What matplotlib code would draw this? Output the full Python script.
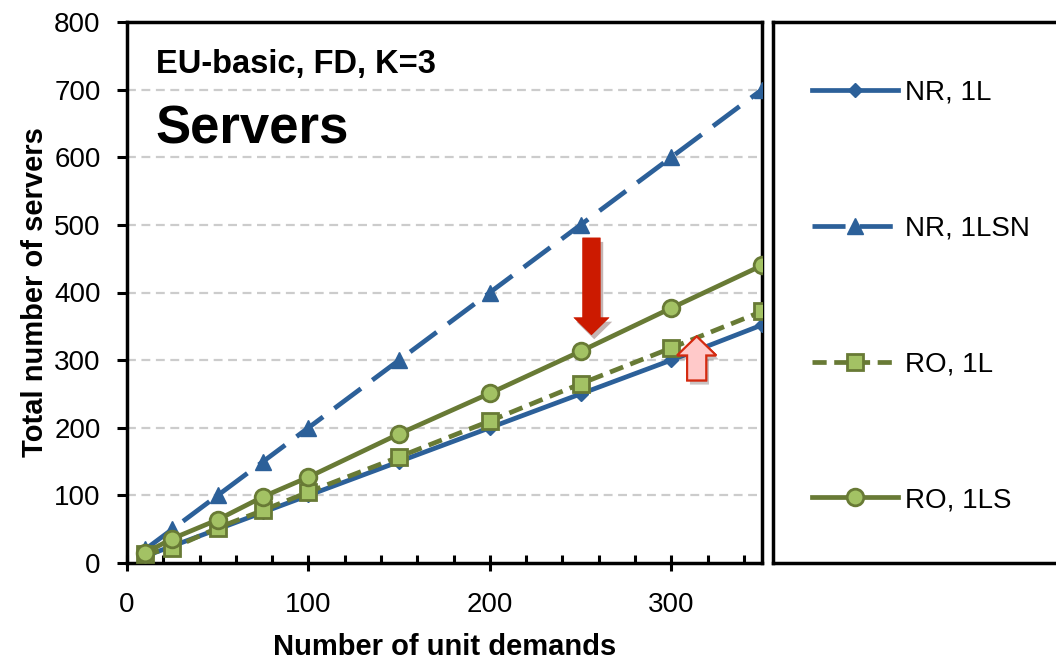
import numpy as np
import matplotlib
matplotlib.use('Agg')
import matplotlib.pyplot as plt
from matplotlib.patches import FancyArrow
import matplotlib.patheffects as pe

plt.rcParams['font.family'] = ['Liberation Sans', 'DejaVu Sans']

# data
demands = [10, 25, 50, 75, 100, 150, 200, 250, 300, 350]
nr_1l = [10, 25, 50, 75, 100, 150, 200, 250, 300, 352]
nr_1lsn = [20, 50, 100, 150, 200, 300, 400, 500, 600, 700]
ro_1l = [13, 22, 52, 78, 105, 157, 210, 265, 318, 372]
ro_1ls = [15, 36, 64, 98, 127, 191, 251, 313, 377, 440]
labels = ['NR, 1L', 'NR, 1LSN', 'RO, 1L', 'RO, 1LS']
yticks = [0, 100, 200, 300, 400, 500, 600, 700, 800]
xticks = [0, 100, 200, 300]

blue = '#2C6099'
green = '#687A35'
lightgreen = '#A3C264'

W, H = 1056, 662
fig = plt.figure(figsize=(W / 100, H / 100), dpi=100)
ax = fig.add_axes([127 / W, (H - 563) / H, (762 - 127) / W, (563 - 22) / H])

ax.plot(demands, nr_1l, color=blue, lw=3.4, marker='D', ms=7,
        mfc=blue, mec=blue, label=labels[0], zorder=3)
ax.plot(demands, nr_1lsn, color=blue, lw=3.4, ls=(0, (7, 3)), marker='^', ms=12,
        mfc=blue, mec=blue, label=labels[1], zorder=3)
ax.plot(demands, ro_1l, color=green, lw=3.4, ls=(0, (3, 1.6)), marker='s', ms=12,
        mfc=lightgreen, mec=green, mew=2, label=labels[2], zorder=4)
ax.plot(demands, ro_1ls, color=green, lw=3.4, marker='o', ms=12,
        mfc=lightgreen, mec=green, mew=2, label=labels[3], zorder=4)

ax.set_xlim(0, 350)
ax.set_ylim(0, 800)
ax.set_xticks(xticks)
ax.set_xticks(np.arange(0, 351, 20), minor=True)
ax.set_yticks(yticks)
ax.tick_params(axis='both', which='major', labelsize=20, width=2.2, length=6)
ax.tick_params(axis='x', which='major', direction='inout', length=12, pad=15)
ax.tick_params(axis='y', which='major', direction='out', length=7, pad=12)
ax.tick_params(axis='x', which='minor', direction='in', width=2.2, length=6)
for s in ax.spines.values():
    s.set_linewidth(2.5)

for y in yticks[1:-1]:
    ax.axhline(y, color='#CCCCCC', lw=1.6, ls=(0, (4, 2.5)), zorder=1)

ax.set_xlabel('Number of unit demands', fontsize=21, fontweight='bold', labelpad=11)
ax.set_ylabel('Total number of servers', fontsize=21, fontweight='bold', labelpad=4)

ax.text(0.045, 0.922, 'EU-basic, FD, K=3', transform=ax.transAxes,
        fontsize=23.5, fontweight='bold', va='center', ha='left')
ax.text(0.045, 0.802, 'Servers', transform=ax.transAxes,
        fontsize=38, fontweight='bold', va='center', ha='left')

shadow = [pe.withSimplePatchShadow(offset=(2, -3), alpha=0.3), pe.Normal()]
down = FancyArrow(256, 481, 0, -144, width=9.9, head_width=19.8, head_length=26,
                  length_includes_head=True, color='#CC1A00', lw=0, zorder=5)
down.set_path_effects(shadow)
ax.add_patch(down)
up = FancyArrow(314, 270, 0, 65, width=10.5, head_width=21.5, head_length=28,
                length_includes_head=True, facecolor='#FFC9C9', edgecolor='#D42A10',
                lw=1.5, zorder=5)
up.set_path_effects(shadow)
ax.add_patch(up)

# legend panel
lax = fig.add_axes([773 / W, (H - 563) / H, 400 / W, (563 - 22) / H])
lax.set_xticks([])
lax.set_yticks([])
for s in lax.spines.values():
    s.set_linewidth(2.5)
handles, hl = ax.get_legend_handles_labels()
lax.legend(handles, hl, loc='center left', bbox_to_anchor=(0.035, 0.4926), frameon=False,
           fontsize=20, labelspacing=3.95, handlelength=3.1, handletextpad=0.25)

fig.savefig('out.png', dpi=100)
